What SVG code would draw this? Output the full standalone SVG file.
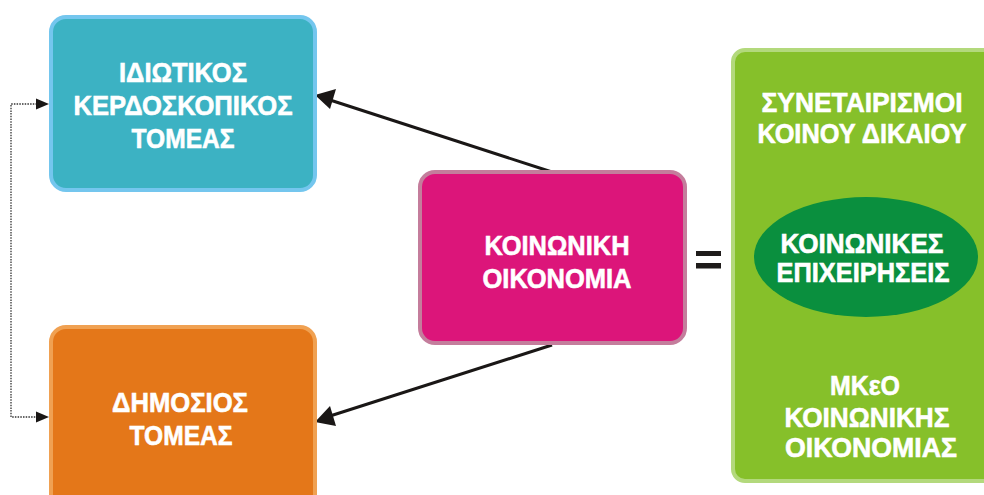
<svg xmlns="http://www.w3.org/2000/svg" width="984" height="495" viewBox="0 0 984 495">
<style>
.t{font-family:"Liberation Sans",Arial,sans-serif;font-weight:bold;font-size:28px;fill:#ffffff;stroke:#ffffff;stroke-width:0.6;text-anchor:middle}
.solid{stroke:#1a1716;stroke-width:3;fill:none}
.dot{stroke:#333;stroke-width:1.3;stroke-dasharray:1.5 1.2;fill:none}
.head{fill:#1a1716}
</style>
<rect width="984" height="495" fill="#ffffff"/>
<g id="connectors">
<line class="solid" x1="552" y1="172" x2="330" y2="100"/>
<polygon class="head" points="315,95 336,89 330,109"/>
<line class="solid" x1="552" y1="345" x2="330" y2="416"/>
<polygon class="head" points="315,422 330,406 336,426"/>
<polyline class="dot" points="37,104 11,104 11,417 37,417"/>
<polygon class="head" points="49,104 36,98.5 36,109.5"/>
<polygon class="head" points="49,417 36,411.5 36,422.5"/>
</g>
<g id="private">
<rect x="51" y="17" width="264" height="173" rx="15" fill="#3cb2c3" stroke="#74c6ee" stroke-width="4"/>
<text class="t" x="183" y="82" textLength="128" lengthAdjust="spacingAndGlyphs">ΙΔΙΩΤΙΚΟΣ</text>
<text class="t" x="183" y="115" textLength="219" lengthAdjust="spacingAndGlyphs">ΚΕΡΔΟΣΚΟΠΙΚΟΣ</text>
<text class="t" x="183" y="148" textLength="103" lengthAdjust="spacingAndGlyphs">ΤΟΜΕΑΣ</text>
</g>
<g id="public">
<rect x="51" y="327" width="264" height="190" rx="15" fill="#e47719" stroke="#f0a152" stroke-width="4"/>
<text class="t" x="180" y="412" textLength="136" lengthAdjust="spacingAndGlyphs">ΔΗΜΟΣΙΟΣ</text>
<text class="t" x="181" y="445" textLength="103" lengthAdjust="spacingAndGlyphs">ΤΟΜΕΑΣ</text>
</g>
<g id="social">
<rect x="420" y="172" width="265" height="171" rx="15" fill="#dc157a" stroke="#c47d9c" stroke-width="4"/>
<text class="t" x="557" y="255" textLength="145" lengthAdjust="spacingAndGlyphs">ΚΟΙΝΩΝΙΚΗ</text>
<text class="t" x="557" y="288" textLength="149" lengthAdjust="spacingAndGlyphs">ΟΙΚΟΝΟΜΙΑ</text>
</g>
<g id="equals">
<rect x="696" y="251" width="25" height="5" fill="#1f1c1b"/>
<rect x="696" y="263" width="25" height="5.5" fill="#1f1c1b"/>
</g>
<g id="forms">
<rect x="733" y="50" width="270" height="431" rx="12" fill="#86c02a" stroke="#b3d97c" stroke-width="4"/>
<text class="t" x="862" y="112" textLength="201" lengthAdjust="spacingAndGlyphs">ΣΥΝΕΤΑΙΡΙΣΜΟΙ</text>
<text class="t" x="862" y="143" textLength="209" lengthAdjust="spacingAndGlyphs">ΚΟΙΝΟΥ ΔΙΚΑΙΟΥ</text>
<text class="t" x="865" y="395" textLength="70" lengthAdjust="spacingAndGlyphs">ΜΚεΟ</text>
<text class="t" x="867" y="427" textLength="165" lengthAdjust="spacingAndGlyphs">ΚΟΙΝΩΝΙΚΗΣ</text>
<text class="t" x="871" y="457" textLength="172" lengthAdjust="spacingAndGlyphs">ΟΙΚΟΝΟΜΙΑΣ</text>
</g>
<g id="enterprises">
<ellipse cx="866" cy="257" rx="112" ry="60" fill="#0a8f3e"/>
<text class="t" x="862" y="253" textLength="163" lengthAdjust="spacingAndGlyphs">ΚΟΙΝΩΝΙΚΕΣ</text>
<text class="t" x="863" y="282" textLength="173" lengthAdjust="spacingAndGlyphs">ΕΠΙΧΕΙΡΗΣΕΙΣ</text>
</g>
</svg>
